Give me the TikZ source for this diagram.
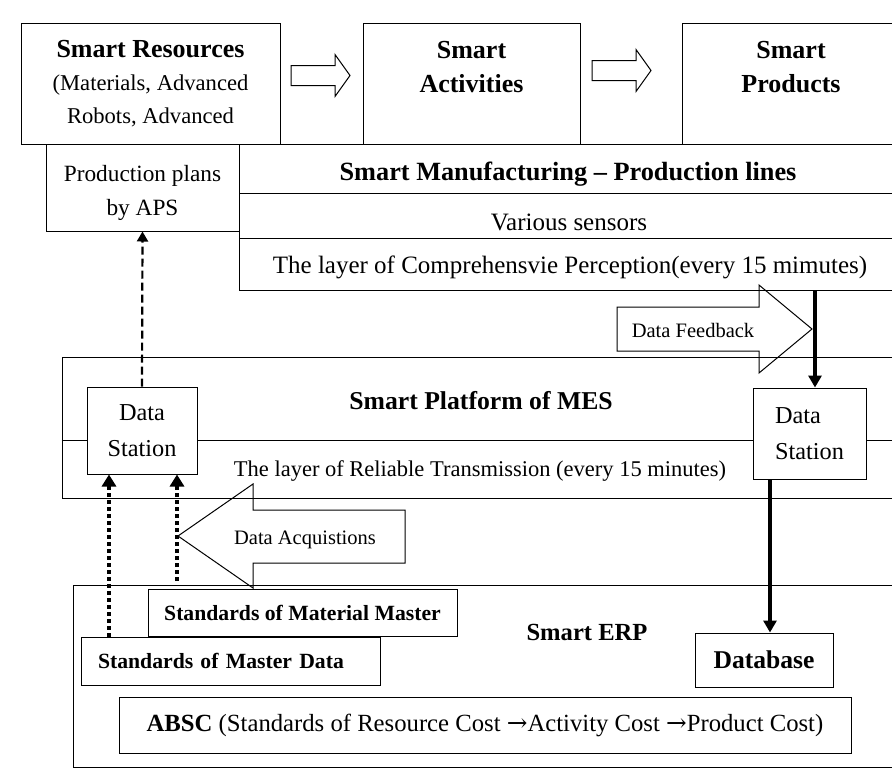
\documentclass[tikz,border=0pt]{standalone}
\usepackage{fontspec}
\setmainfont{Liberation Serif}
\newfontfamily\arrfont{DejaVu Serif}
\usetikzlibrary{arrows.meta}

\begin{document}
\begin{tikzpicture}[x=1pt,y=-1pt,every node/.style={align=center,inner sep=0pt},
	box/.style={draw,line width=1pt},
	hd/.style={font=\fontsize{26}{34}\selectfont\bfseries},
	txt/.style={font=\fontsize{22.6}{33}\selectfont},
	lay/.style={font=\fontsize{25}{30}\selectfont},
	sm/.style={font=\fontsize{20.5}{24}\selectfont},
	std/.style={font=\fontsize{21.7}{26}\selectfont\bfseries},
	feedarr/.style={line width=3.5pt,-{Triangle[length=12pt,width=13pt]}},
	acqarr/.style={line width=3.5pt,dash pattern=on 4pt off 3pt,-{Triangle[length=12pt,width=14pt]}},
	planarr/.style={line width=2.2pt,dash pattern=on 8pt off 4pt,-{Triangle[length=10pt,width=11pt]}}]
	\useasboundingbox(0,0)rectangle(892,772);
	\clip(0,0)rectangle(892,772);
	% top row
	\node[box,txt,minimum width=259pt,minimum height=121pt](res)at(150.5,83.5){{\fontsize{26}{33}\selectfont\bfseries Smart Resources}\\(Materials, Advanced\\Robots, Advanced};
	\node[box,hd,minimum width=217pt,minimum height=121pt](act)at(471.5,83.5){Smart\\Activities\\~};
	\node[box,hd,minimum width=218pt,minimum height=121pt](prd)at(791,83.5){Smart\\Products\\~};
	\foreach \x/\y in{291/75.5,592/70.5}
	\draw[line width=1pt](\x,\y-10)--(\x+44,\y-10)--(\x+44,\y-21)--(\x+59,\y)--(\x+44,\y+21)--(\x+44,\y+10)--(\x,\y+10)--cycle;
	% production lines
	\node[box,minimum width=193pt,minimum height=87pt](plan)at(142.5,187.5){};
	\node[font=\fontsize{23.3}{34}\selectfont](plant)at(142.5,193){Production plans\\by APS};
	\node[box,minimum width=661pt,minimum height=49pt](mfg)at(569.5,168.5){};
	\node[box,minimum width=661pt,minimum height=45pt](sens)at(569.5,215.5){};
	\node[box,minimum width=661pt,minimum height=52pt](perc)at(569.5,264){};
	\node[font=\fontsize{26.3}{30}\selectfont\bfseries](mfgt)at(568,174){Smart Manufacturing – Production lines};
	\node[lay](senst)at(569,222){Various sensors};
	\node[lay](perct)at(570,267){The layer of Comprehensvie Perception(every 15 mimutes)};
	% MES
	\node[box,minimum width=838pt,minimum height=141pt](mes)at(481,427.5){};
	\draw[line width=1pt](mes.west|-0,440)--(mes.east|-0,440);
	\node[font=\fontsize{25.7}{30}\selectfont\bfseries](mest)at(481,401){Smart Platform of MES};
	\node[font=\fontsize{22.5}{28}\selectfont](relt)at(480,471){The layer of Reliable Transmission (every 15 minutes)};
	\node[box,fill=white,font=\fontsize{24.3}{36}\selectfont,minimum width=110pt,minimum height=87pt](ds1)at(142,430.5){Data\\Station};
	\node[box,fill=white,font=\fontsize{24.3}{36}\selectfont,align=left,minimum width=113pt,minimum height=91pt](ds2)at(809.5,433.5){Data\\Station};
	\draw[line width=1pt](617,307)--(759,307)--(759,285)--(812,329)--(759,373)--(759,351)--(617,351)--cycle;
	\node[sm](fb)at(693,330){Data Feedback};
	\draw[line width=1pt](405,510)--(253,510)--(253,484)--(178,536)--(253,588)--(253,563)--(405,563)--cycle;
	\node[sm](acq)at(305,540){Data Acquistions};
	% ERP
	\node[box,minimum width=827pt,minimum height=182pt](erp)at(486.5,676){};
	\node[font=\fontsize{24.6}{30}\selectfont\bfseries](erpt)at(587,632){Smart ERP};
	\node[box,std,minimum width=309pt,minimum height=47pt](mat)at(302.5,612.5){Standards of Material Master};
	\node[box,std,align=left,text width=265pt,minimum width=299pt,minimum height=48pt](mdat)at(230.5,661){Standards of Master Data};
	\node[box,font=\fontsize{25.6}{30}\selectfont\bfseries,minimum width=138pt,minimum height=54pt](db)at(764,660){Database};
	\node[box,font=\fontsize{24.7}{30}\selectfont,minimum width=732pt,minimum height=56pt](abc)at(485,725){{\bfseries ABSC} (Standards of Resource Cost {\arrfont →}Activity Cost {\arrfont →}Product Cost)};
	% connectors
	\draw[planarr](ds1.north)--(plan.south);
	\coordinate(acqend)at(177,581);
	\draw[acqarr](mdat.north-|109,0)--(ds1.south-|109,0);
	\draw[acqarr](acqend)--(ds1.south-|acqend);
	\draw[feedarr](perc.south-|815,0)--(ds2.north-|815,0);
	\draw[feedarr](ds2.south-|770,0)--(db.north-|770,0);
\end{tikzpicture}
\end{document}
